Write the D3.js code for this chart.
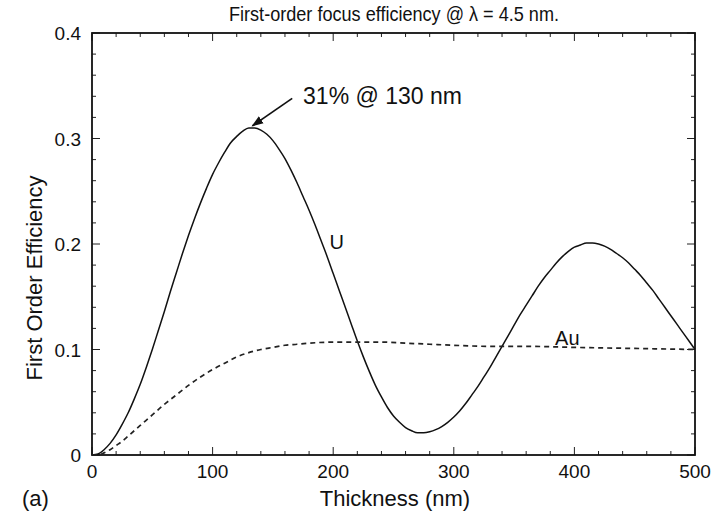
<!DOCTYPE html>
<html>
<head>
<meta charset="utf-8">
<script src="https://cdn.jsdelivr.net/npm/d3@7"></script>
<style>
  body { margin: 0; background: #fff; }
  svg { font-family: "Liberation Sans", Arial, sans-serif; }
</style>
</head>
<body>
<svg width="717" height="516"></svg>
<script>
// thickness (nm) sampled every 5 nm
const thickness = d3.range(0, 501, 5);

// U curve
const uEff = [
  0, 0.001, 0.005, 0.011, 0.019, 0.029, 0.040, 0.053, 0.067, 0.083,
  0.100, 0.118, 0.136, 0.155, 0.173, 0.191, 0.208, 0.224, 0.239, 0.253,
  0.266, 0.277, 0.287, 0.296, 0.302, 0.307, 0.310, 0.310, 0.308, 0.304,
  0.298, 0.290, 0.281, 0.270, 0.258, 0.245, 0.232, 0.218, 0.203, 0.188,
  0.172, 0.156, 0.140, 0.124, 0.108, 0.093, 0.079, 0.066, 0.055, 0.045,
  0.037, 0.031, 0.026, 0.023, 0.021, 0.021, 0.022, 0.024, 0.027, 0.031,
  0.036, 0.042, 0.049, 0.057, 0.065, 0.074, 0.083, 0.093, 0.103, 0.113,
  0.123, 0.133, 0.142, 0.151, 0.160, 0.168, 0.175, 0.182, 0.188, 0.193,
  0.197, 0.199, 0.201, 0.201, 0.200, 0.198, 0.195, 0.191, 0.187, 0.182,
  0.176, 0.170, 0.163, 0.156, 0.148, 0.140, 0.132, 0.124, 0.116, 0.108,
  0.100
];

// Au curve (dashed)
const auThick = [0, 5, 10, 15, 20, 25, 30, 40, 50, 60, 70, 80, 90, 100, 110, 120, 130, 140, 150, 160, 170, 180, 200, 220, 240, 260, 280, 300, 330, 360, 400, 450, 500];
const auEff = [0, 0, 0.002, 0.005, 0.009, 0.013, 0.018, 0.028, 0.038, 0.048, 0.057, 0.066, 0.074, 0.081, 0.087, 0.093, 0.097, 0.100, 0.102, 0.104, 0.105, 0.106, 0.107, 0.107, 0.107, 0.106, 0.105, 0.104, 0.103, 0.103, 0.102, 0.101, 0.100];

const xTicks = [0, 100, 200, 300, 400, 500];
const yTicks = [0, 0.1, 0.2, 0.3, 0.4];

const svg = d3.select("svg");
const pLeft = 92, pRight = 695, pTop = 33, pBottom = 455;

const x = d3.scaleLinear().domain([0, 500]).range([pLeft, pRight]);
const y = d3.scaleLinear().domain([0, 0.4]).range([pBottom, pTop]);

// ticks, inward on all four sides
const minorX = d3.range(0, 501, 20);
const minorY = d3.range(0, 0.4001, 0.02);

const tickG = svg.append("g").attr("stroke", "#222").attr("stroke-width", 1);
minorX.forEach(v => {
  const len = xTicks.includes(v) ? 8 : 4;
  tickG.append("line").attr("x1", x(v)).attr("x2", x(v)).attr("y1", pBottom).attr("y2", pBottom - len);
  tickG.append("line").attr("x1", x(v)).attr("x2", x(v)).attr("y1", pTop).attr("y2", pTop + len);
});
minorY.forEach((v, i) => {
  const len = i % 5 === 0 ? 8 : 4;
  tickG.append("line").attr("y1", y(v)).attr("y2", y(v)).attr("x1", pLeft).attr("x2", pLeft + len);
  tickG.append("line").attr("y1", y(v)).attr("y2", y(v)).attr("x1", pRight).attr("x2", pRight - len);
});

svg.append("rect")
  .attr("x", pLeft).attr("y", pTop)
  .attr("width", pRight - pLeft).attr("height", pBottom - pTop)
  .attr("fill", "none").attr("stroke", "#111").attr("stroke-width", 1.8);

// tick labels
svg.append("g").selectAll("text")
  .data(xTicks).join("text")
  .attr("x", d => x(d)).attr("y", pBottom + 23)
  .attr("text-anchor", "middle").attr("font-size", 19).attr("fill", "#111")
  .text(d => d);

svg.append("g").selectAll("text")
  .data(yTicks).join("text")
  .attr("x", pLeft - 11).attr("y", d => y(d) + 7)
  .attr("text-anchor", "end").attr("font-size", 19).attr("fill", "#111")
  .text(d => d === 0 ? "0" : d.toFixed(1));

// curves
const line = d3.line().x(d => x(d[0])).y(d => y(d[1])).curve(d3.curveMonotoneX);

svg.append("path")
  .datum(thickness.map((t, i) => [t, uEff[i]]))
  .attr("d", line)
  .attr("fill", "none").attr("stroke", "#111").attr("stroke-width", 1.5);

svg.append("path")
  .datum(auThick.map((t, i) => [t, auEff[i]]))
  .attr("d", line)
  .attr("fill", "none").attr("stroke", "#222").attr("stroke-width", 1.7)
  .attr("stroke-dasharray", "5,4");

// curve labels
svg.append("text").attr("x", x(197)).attr("y", y(0.195))
  .attr("font-size", 20).attr("fill", "#111").text("U");
svg.append("text").attr("x", x(384)).attr("y", y(0.104))
  .attr("font-size", 20).attr("fill", "#111").text("Au");

// peak annotation with arrow
svg.append("defs").append("marker")
  .attr("id", "arrow").attr("viewBox", "0 0 10 10")
  .attr("refX", 9).attr("refY", 5)
  .attr("markerWidth", 7).attr("markerHeight", 7)
  .attr("orient", "auto")
  .append("path").attr("d", "M0,1.5 L10,5 L0,8.5 Z").attr("fill", "#111");

svg.append("line")
  .attr("x1", x(166)).attr("y1", y(0.338))
  .attr("x2", x(133)).attr("y2", y(0.312))
  .attr("stroke", "#111").attr("stroke-width", 1.7)
  .attr("marker-end", "url(#arrow)");

svg.append("text").attr("x", x(175)).attr("y", y(0.333))
  .attr("font-size", 23).attr("fill", "#111").text("31% @ 130 nm");

// titles
svg.append("text").attr("x", 394).attr("y", 21)
  .attr("text-anchor", "middle").attr("font-size", 21).attr("fill", "#111")
  .attr("textLength", 330).attr("lengthAdjust", "spacingAndGlyphs")
  .text("First-order focus efficiency @ λ = 4.5 nm.");

svg.append("text").attr("x", 395).attr("y", 506)
  .attr("text-anchor", "middle").attr("font-size", 22).attr("fill", "#111")
  .text("Thickness (nm)");

svg.append("text")
  .attr("transform", "translate(42,278) rotate(-90)")
  .attr("text-anchor", "middle").attr("font-size", 22).attr("fill", "#111")
  .text("First Order Efficiency");

svg.append("text").attr("x", 22).attr("y", 506)
  .attr("font-size", 22).attr("fill", "#111").text("(a)");
</script>
</body>
</html>
